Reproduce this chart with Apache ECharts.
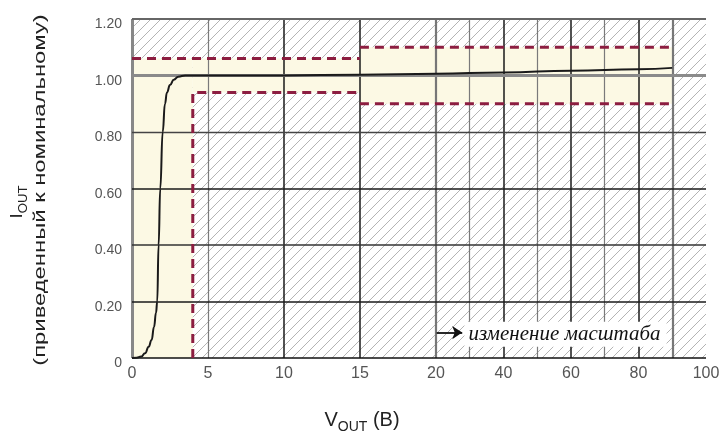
<!DOCTYPE html>
<html><head><meta charset="utf-8">
<script src="https://cdn.jsdelivr.net/npm/echarts@6/dist/echarts.min.js"></script>
<style>html,body{margin:0;padding:0;background:#fff}#c{width:724px;height:436px}</style>
</head><body><div id="c"></div>
<script>
// ---- data (original units) ----
const xTickLabels = [0, 5, 10, 15, 20, 40, 60, 80, 100];
const xGridDark = [10, 15, 40, 60, 80];
const xGridLight = [5, 30, 50, 70];
const xGridThick = [20, 90];
const yTicks = [0, 0.2, 0.4, 0.6, 0.8, 1.0, 1.2];
const curveX = [0, 0.3, 0.6, 0.86, 1.1, 1.29, 1.45, 1.58, 1.66, 1.75, 1.86, 2.02, 2.17, 2.3, 2.5, 2.75, 3.05, 3.5, 10, 15, 20, 40, 60, 80, 90];
const curveY = [0, 0.001, 0.005, 0.017, 0.04, 0.064, 0.11, 0.16, 0.2, 0.4, 0.6, 0.8, 0.9, 0.94, 0.966, 0.985, 0.996, 1.0, 1.0, 1.003, 1.006, 1.011, 1.017, 1.022, 1.027];
const tolUpperA = [[0, 1.06], [15, 1.06]];
const tolLowerA = [[4, 0], [4, 0.94], [15, 0.94]];
const tolUpperB = [[15, 1.10], [90, 1.10]];
const tolLowerB = [[15, 0.90], [90, 0.90]];
const okZones = [[[0, 0], [4, 1.06]], [[4, 0.94], [15, 1.06]], [[15, 0.90], [90, 1.10]]];
const noteText = 'изменение масштаба';
const noteAt = [20, 0.09];

// scale change at 20: 0..20 linear, 20..100 compressed
const K = 2 / 9;
const t = v => v <= 20 ? v : 20 + (v - 20) * K;
const inv = u => u <= 20 ? u : 20 + (u - 20) / K;
const XMAX = t(100);

// hatch pattern
const pc = document.createElement('canvas');
pc.width = 10; pc.height = 10;
const g = pc.getContext('2d');
g.strokeStyle = '#b4b4b4'; g.lineWidth = 1;
g.beginPath();
g.moveTo(-5, 5); g.lineTo(5, -5);
g.moveTo(0, 10); g.lineTo(10, 0);
g.moveTo(5, 15); g.lineTo(15, 5);
g.stroke();

const chart = echarts.init(document.getElementById('c'));
const FONT = 'Liberation Sans, Arial, sans-serif';

const vLine = (v, color, w) => ({ xAxis: t(v), lineStyle: { color: color, width: w, type: 'solid' } });
const hLine = (v, color, w) => ({ yAxis: v, lineStyle: { color: color, width: w, type: 'solid' } });

const gridLines = [];
xGridLight.forEach(v => gridLines.push(vLine(v, '#7a7a7a', 1.2)));
xGridDark.forEach(v => gridLines.push(vLine(v, '#1a1a1a', 1.5)));
xGridThick.forEach(v => gridLines.push(vLine(v, '#777', 2.2)));
gridLines.push(vLine(100, '#666', 1.5));
gridLines.push(vLine(0, '#888', 3));
gridLines.push(hLine(0.2, '#1a1a1a', 1.5));
gridLines.push(hLine(0.4, '#333', 1.5));
gridLines.push(hLine(0.6, '#1a1a1a', 1.5));
gridLines.push(hLine(0.8, '#444', 1.3));
gridLines.push(hLine(1.0, '#8a8a8a', 3));
gridLines.push(hLine(1.2, '#666', 2));
gridLines.push(hLine(0, '#111', 1.6));

const dashStyle = { color: '#8c1d40', width: 3, type: [9, 6] };
const tolSeries = (pts, name) => ({
  type: 'line', name: name, z: 5, silent: true, symbol: 'none',
  data: pts.map(p => [t(p[0]), p[1]]), lineStyle: dashStyle
});

const subRich = size => ({
  m: { fontSize: size, fontFamily: FONT, fill: '#222', verticalAlign: 'top', lineHeight: size + 4 },
  s: { fontSize: Math.round(size * 0.72), fontFamily: FONT, fill: '#222', verticalAlign: 'bottom', lineHeight: Math.round(size * 0.72) }
});

chart.setOption({
  animation: false,
  backgroundColor: '#fff',
  grid: { left: 132, top: 19, right: 18, bottom: 78, show: false },
  xAxis: {
    type: 'value', min: 0, max: XMAX,
    axisLine: { show: false }, axisTick: { show: false }, splitLine: { show: false },
    axisLabel: {
      customValues: xTickLabels.map(t),
      formatter: u => String(Math.round(inv(u))),
      color: '#555', fontSize: 16, fontFamily: FONT, margin: 8
    }
  },
  yAxis: {
    type: 'value', min: 0, max: 1.2, interval: 0.2,
    axisLine: { show: false }, axisTick: { show: false }, splitLine: { show: false },
    axisLabel: {
      formatter: v => v === 0 ? '0' : v.toFixed(2),
      color: '#555', fontSize: 14, fontFamily: FONT, margin: 10,
      verticalAlign: 'top', lineHeight: 11
    }
  },
  series: [
    {
      type: 'line', data: [], z: 1, silent: true,
      markArea: {
        silent: true,
        data: [[{ coord: [0, 0], itemStyle: { color: { image: pc, repeat: 'repeat' } } }, { coord: [XMAX, 1.2] }]]
      }
    },
    {
      type: 'line', data: [], z: 2, silent: true,
      markArea: {
        silent: true,
        itemStyle: { color: '#fcf9e4' },
        data: okZones.map(zn => [{ coord: [t(zn[0][0]), zn[0][1]] }, { coord: [t(zn[1][0]), zn[1][1]] }])
      }
    },
    {
      type: 'line', data: [], z: 3, silent: true,
      markLine: { silent: true, symbol: 'none', label: { show: false }, data: gridLines, animation: false }
    },
    tolSeries(tolUpperA, 'ua'), tolSeries(tolLowerA, 'la'), tolSeries(tolUpperB, 'ub'), tolSeries(tolLowerB, 'lb'),
    {
      type: 'line', z: 6, silent: true, symbol: 'none', smooth: 0.5, smoothMonotone: 'x',
      data: curveX.map((x, i) => [t(x), curveY[i]]),
      lineStyle: { color: '#1a1a1a', width: 2 }
    },
    {
      type: 'line', data: [], z: 7, silent: true,
      markLine: {
        silent: true, symbol: ['none', 'arrow'], symbolSize: 10,
        label: { show: false },
        lineStyle: { color: '#111', width: 1.8, type: 'solid' },
        data: [[{ coord: [t(noteAt[0]) + 0.05, noteAt[1]] }, { coord: [t(noteAt[0] + 7.8), noteAt[1]] }]]
      },
      markPoint: {
        silent: true, symbol: 'circle', symbolSize: 1, itemStyle: { color: 'rgba(0,0,0,0)' },
        label: {
          show: true, position: 'right', distance: 0, formatter: noteText,
          fontFamily: 'Liberation Serif, Times New Roman, serif', fontStyle: 'italic',
          fontSize: 21, color: '#111', backgroundColor: '#fff', padding: [2, 6, 2, 4]
        },
        data: [{ coord: [t(noteAt[0] + 8.3), noteAt[1] - 0.006] }]
      }
    }
  ],
  graphic: [
    {
      type: 'text', left: 'center', top: 410,
      style: { text: '{m|V}{s|OUT}{m| (B)}', rich: subRich(20) }
    },
    {
      type: 'text', rotation: Math.PI / 2, x: 19, y: 202, scaleX: 1.1,
      style: { text: '{m|I}{s|OUT}', align: 'center', verticalAlign: 'middle', rich: subRich(17) }
    },
    {
      type: 'text', rotation: Math.PI / 2, x: 40, y: 190, scaleX: 1.4,
      style: {
        text: '(приведенный к номинальному)', align: 'center', verticalAlign: 'middle',
        fontSize: 17, fontFamily: FONT, fill: '#222'
      }
    }
  ]
});
</script></body></html>
